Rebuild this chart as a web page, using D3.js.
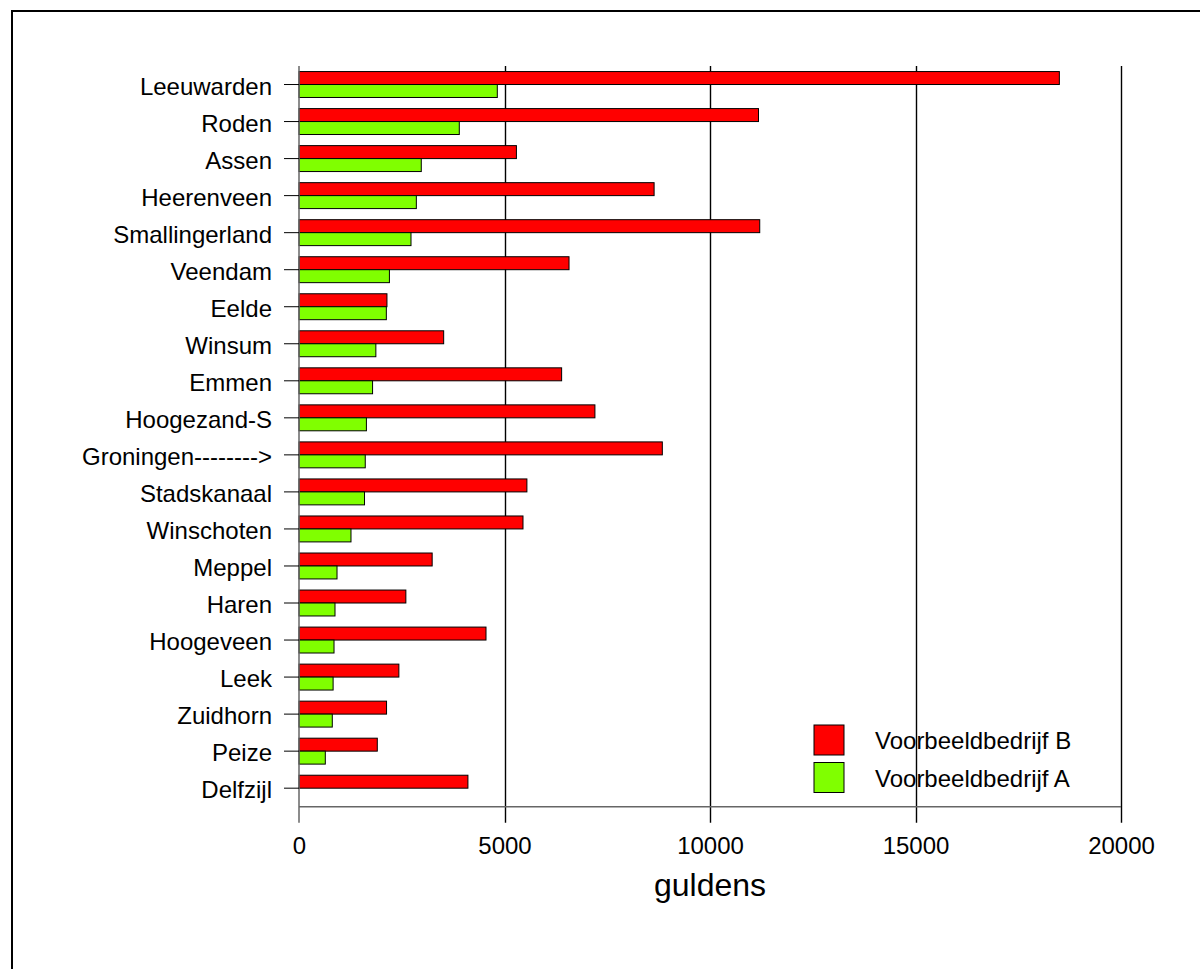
<!DOCTYPE html>
<html>
<head>
<meta charset="utf-8">
<script src="https://cdn.jsdelivr.net/npm/d3@7"></script>
<style>
  html, body { margin: 0; padding: 0; background: #fff; }
  svg { display: block; font-family: "Liberation Sans", Arial, Helvetica, sans-serif; }
</style>
</head>
<body>
<svg id="chart" width="1200" height="969"></svg>
<script>
// Plaatsen, van boven naar beneden
const categories = [
  "Leeuwarden", "Roden", "Assen", "Heerenveen", "Smallingerland", "Veendam",
  "Eelde", "Winsum", "Emmen", "Hoogezand-S", "Groningen-------->", "Stadskanaal",
  "Winschoten", "Meppel", "Haren", "Hoogeveen", "Leek", "Zuidhorn", "Peize", "Delfzijl"
];
// Bedragen in guldens
const valuesB = [18500, 11180, 5290, 8640, 11210, 6570, 2140, 3520, 6390, 7200,
                 8840, 5545, 5450, 3240, 2600, 4550, 2430, 2130, 1905, 4110];
const valuesA = [4825, 3900, 2975, 2855, 2725, 2200, 2125, 1870, 1790, 1640,
                 1612, 1594, 1265, 925, 876, 852, 830, 810, 640, 0];
const seriesNames = ["Voorbeeldbedrijf B", "Voorbeeldbedrijf A"];
const seriesColors = ["#ff0000", "#80ff00"];
const xTicks = [0, 5000, 10000, 15000, 20000];
const xTitle = "guldens";

const svg = d3.select("#chart");

// Kader rond de grafiek
svg.append("rect")
  .attr("x", 12).attr("y", 11)
  .attr("width", 1300).attr("height", 1100)
  .attr("fill", "none").attr("stroke", "#000").attr("stroke-width", 2);

const plotLeft = 299, plotRight = 1121, plotTop = 66, plotBottom = 806.7;

const x = d3.scaleLinear().domain([0, 20000]).range([plotLeft, plotRight]);
const y = d3.scaleBand().domain(categories).range([plotTop, plotBottom]);
const barH = y.bandwidth() * 0.35;

// Verticale rasterlijnen, doorlopend tot onder de as
svg.append("g").selectAll("line")
  .data(xTicks.slice(1))
  .join("line")
  .attr("x1", d => Math.round(x(d)) + 0.5).attr("x2", d => Math.round(x(d)) + 0.5)
  .attr("y1", plotTop).attr("y2", plotBottom + 16)
  .attr("stroke", "#000").attr("stroke-width", 1.4);

// Staven
const rows = categories.map((c, i) => ({ c, b: valuesB[i], a: valuesA[i] }));
const g = svg.append("g");
g.selectAll("rect.b")
  .data(rows)
  .join("rect")
  .attr("class", "b")
  .attr("x", x(0))
  .attr("y", d => y(d.c) + y.bandwidth() / 2 - barH)
  .attr("width", d => x(d.b) - x(0))
  .attr("height", barH)
  .attr("fill", seriesColors[0])
  .attr("stroke", "#000").attr("stroke-width", 1);
g.selectAll("rect.a")
  .data(rows.filter(d => d.a > 0))
  .join("rect")
  .attr("class", "a")
  .attr("x", x(0))
  .attr("y", d => y(d.c) + y.bandwidth() / 2)
  .attr("width", d => x(d.a) - x(0))
  .attr("height", barH)
  .attr("fill", seriesColors[1])
  .attr("stroke", "#000").attr("stroke-width", 1);

// Assen
svg.append("line")
  .attr("x1", plotLeft).attr("x2", plotRight)
  .attr("y1", plotBottom).attr("y2", plotBottom)
  .attr("stroke", "#666").attr("stroke-width", 1.5);
svg.append("line")
  .attr("x1", plotLeft).attr("x2", plotLeft)
  .attr("y1", plotTop).attr("y2", plotBottom + 16)
  .attr("stroke", "#666").attr("stroke-width", 1.5);

// Categorie-as
const yAxis = svg.append("g")
  .attr("transform", `translate(${plotLeft},0)`)
  .call(d3.axisLeft(y).tickSize(15).tickPadding(12));
yAxis.select(".domain").remove();
yAxis.selectAll(".tick line").attr("stroke", "#000");
yAxis.selectAll(".tick text")
  .attr("font-size", 24)
  .attr("font-family", "Liberation Sans, Arial, sans-serif")
  .attr("fill", "#000")
  .attr("dy", "0.42em");

// Waarde-as labels
const xAxis = svg.append("g")
  .attr("transform", `translate(0,${plotBottom})`)
  .call(d3.axisBottom(x).tickValues(xTicks).tickSize(0).tickPadding(30).tickFormat(d3.format("d")));
xAxis.select(".domain").remove();
xAxis.selectAll(".tick text")
  .attr("font-size", 24)
  .attr("font-family", "Liberation Sans, Arial, sans-serif")
  .attr("fill", "#000");

svg.append("text")
  .attr("x", x(10000)).attr("y", 896)
  .attr("text-anchor", "middle")
  .attr("font-size", 32)
  .text(xTitle);

// Legenda
const legend = svg.append("g").attr("transform", "translate(814,725)");
seriesNames.forEach((name, i) => {
  const row = legend.append("g").attr("transform", `translate(0,${i * 37.5})`);
  row.append("rect")
    .attr("width", 30).attr("height", 30)
    .attr("fill", seriesColors[i])
    .attr("stroke", "#000").attr("stroke-width", 1);
  row.append("text")
    .attr("x", 61).attr("y", 24)
    .attr("font-size", 24)
    .text(name);
});
</script>
</body>
</html>
